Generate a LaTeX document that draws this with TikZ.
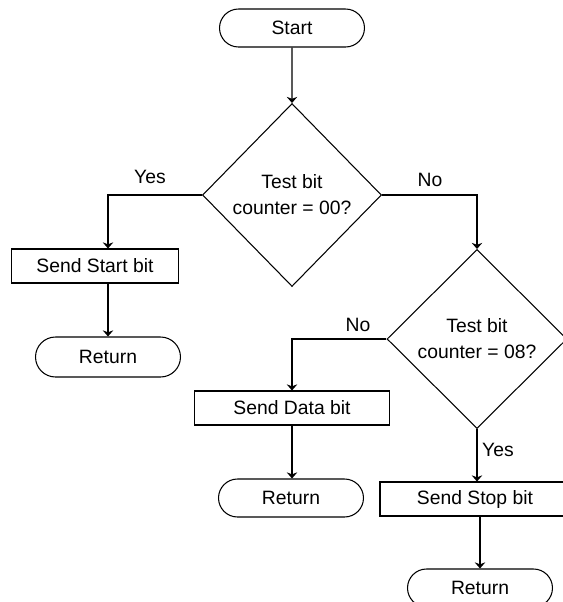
\documentclass[tikz,border=0pt]{standalone}
\usepackage{fontspec}
\setmainfont{Liberation Sans}
\usetikzlibrary{shapes.geometric,shapes.misc,arrows.meta}

\begin{document}
\begin{tikzpicture}[x=0.02cm,y=-0.02cm,->,>={Stealth[length=3.5pt,width=6pt]},
                    line width=0.6pt,font=\fontsize{11}{14.8}\selectfont]
  \tikzset{terminal/.style={draw,rounded rectangle,minimum width=2.9cm,minimum height=0.76cm,inner sep=0pt},
           process/.style={draw,rectangle,minimum height=0.68cm,inner sep=0pt},
           decision/.style={draw,diamond,align=center,inner sep=0pt}}
  \clip (0,0) rectangle (563,602);

  \node[terminal]                                          (start)     at (292,28)  {Start};
  \node[decision,minimum width=3.58cm,minimum height=3.66cm] (test00)  at (292,195) {Test bit\\counter = 00?};
  \node[process,minimum width=3.34cm]                      (sendstart) at (95,266)  {Send Start bit};
  \node[terminal,minimum height=0.8cm]                     (ret1)      at (108,357) {Return};
  \node[decision,minimum width=3.6cm,minimum height=3.58cm] (test08)   at (477,339) {Test bit\\counter = 08?};
  \node[process,minimum width=3.9cm]                       (senddata)  at (292,408) {Send Data bit};
  \node[terminal]                                          (ret2)      at (291,498) {Return};
  \node[process,minimum width=3.8cm]                       (sendstop)  at (475,499) {Send Stop bit};
  \node[terminal]                                          (ret3)      at (480,588) {Return};

  \node (yes1) at (150,177) {Yes};
  \node (no1)  at (430,180) {No};
  \node (no2)  at (358,325) {No};
  \node (yes2) at (498,450) {Yes};

  \draw (start) -- (test00);
  \draw (test00.west) -| (ret1.north |- sendstart.north);
  \draw (ret1.north |- sendstart.south) -- (ret1.north);
  \draw (test00.east) -| (test08.north);
  \draw (test08.west) -| (senddata.north);
  \draw (senddata.south) -- (senddata.south |- ret2.north);
  \draw (test08.south) -- (test08.south |- sendstop.north);
  \draw (ret3.north |- sendstop.south) -- (ret3.north);
\end{tikzpicture}
\end{document}
